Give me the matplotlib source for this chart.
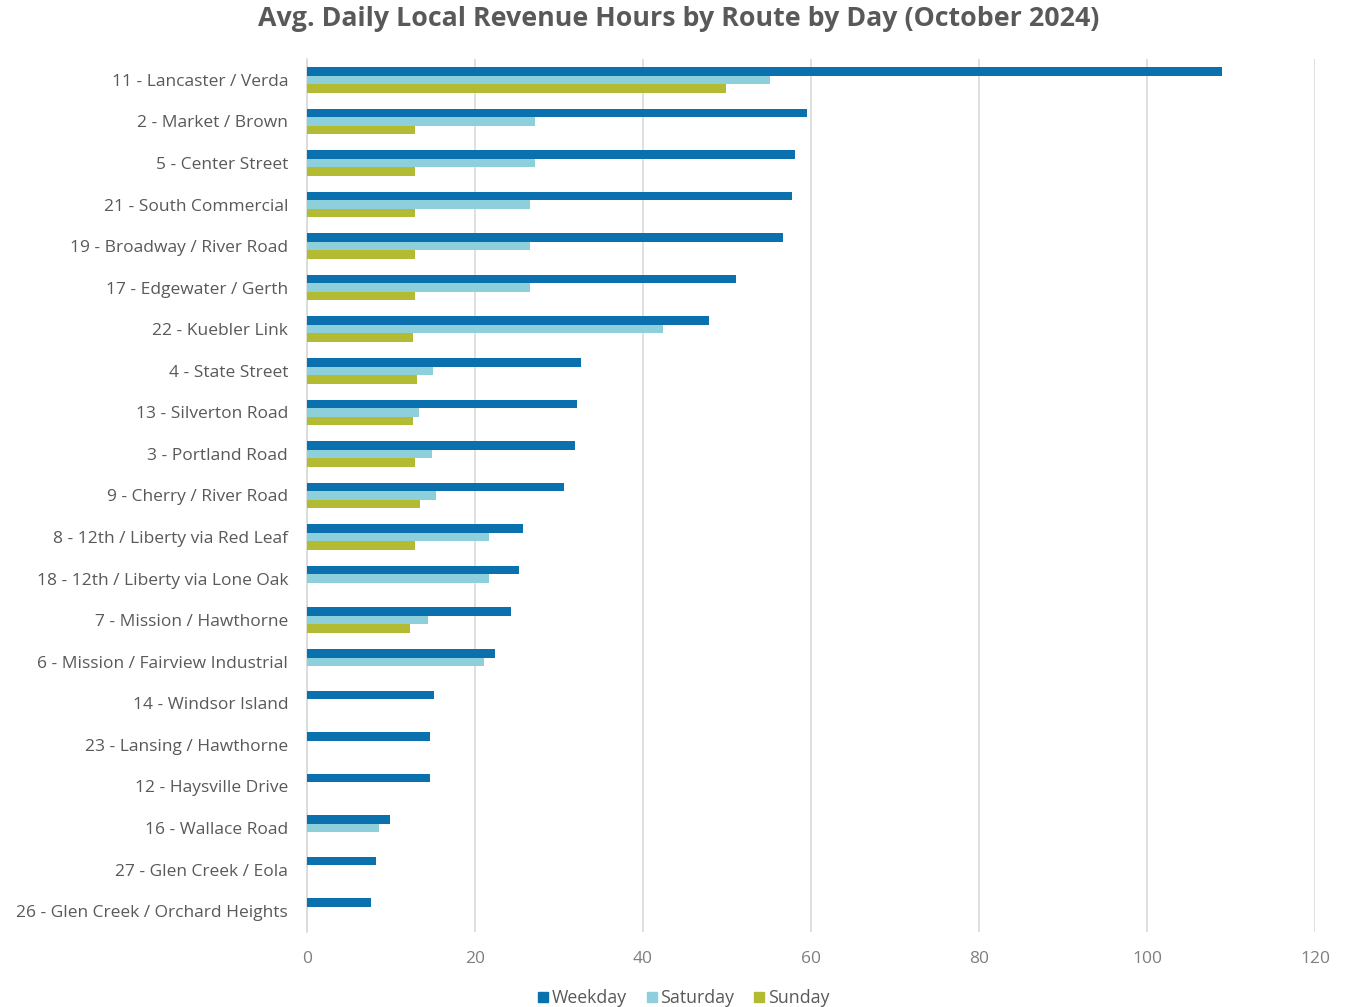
import numpy as np
import matplotlib
matplotlib.use("Agg")
import matplotlib.pyplot as plt
from matplotlib.lines import Line2D

plt.rcParams['font.family'] = ['Open Sans', 'DejaVu Sans']

routes = [
    "11 - Lancaster / Verda",
    "2 - Market / Brown",
    "5 - Center Street",
    "21 - South Commercial",
    "19 - Broadway / River Road",
    "17 - Edgewater / Gerth",
    "22 - Kuebler Link",
    "4 - State Street",
    "13 - Silverton Road",
    "3 - Portland Road",
    "9 - Cherry / River Road",
    "8 - 12th / Liberty via Red Leaf",
    "18 - 12th / Liberty via Lone Oak",
    "7 - Mission / Hawthorne",
    "6 - Mission / Fairview Industrial",
    "14 - Windsor Island",
    "23 - Lansing / Hawthorne",
    "12 - Haysville Drive",
    "16 - Wallace Road",
    "27 - Glen Creek / Eola",
    "26 - Glen Creek / Orchard Heights",
]

weekday = [108.9, 59.5, 58.1, 57.7, 56.7, 51.1, 47.9, 32.6, 32.1, 31.9, 30.6,
           25.7, 25.2, 24.3, 22.4, 15.1, 14.6, 14.6, 9.9, 8.2, 7.6]
saturday = [55.1, 27.1, 27.1, 26.5, 26.5, 26.5, 42.4, 15.0, 13.3, 14.9, 15.4,
            21.7, 21.7, 14.4, 21.1, 0, 0, 0, 8.6, 0, 0]
sunday = [49.9, 12.9, 12.9, 12.9, 12.9, 12.9, 12.6, 13.1, 12.6, 12.9, 13.5,
          12.9, 0, 12.3, 0, 0, 0, 0, 0, 0, 0]

series_names = ["Weekday", "Saturday", "Sunday"]
colors = ["#0A71AE", "#8DCFDB", "#B3BB32"]
x_ticks = [0, 20, 40, 60, 80, 100, 120]

fig = plt.figure(figsize=(13.5, 10.07), dpi=100)
ax = fig.add_axes([0.2274, 0.0745, 0.7467, 0.8669])

pos = np.arange(len(routes))
bar_h = 0.205
for i, (vals, col) in enumerate(zip([weekday, saturday, sunday], colors)):
    ax.barh(pos + (i - 1) * bar_h, vals, height=bar_h, color=col,
            label=series_names[i], zorder=3)

ax.set_ylim(len(routes) - 0.5, -0.5)
ax.set_xlim(0, 120)
ax.set_xticks(x_ticks)
ax.set_yticks(pos)
ax.set_yticklabels(routes)

ax.grid(axis='x', color='#D9D9D9', linewidth=1.2, zorder=0)
for s in ['top', 'right', 'bottom']:
    ax.spines[s].set_visible(False)
ax.spines['left'].set_color('#D9D9D9')
ax.spines['left'].set_linewidth(1.2)
ax.tick_params(axis='y', length=0, pad=13.5, labelsize=12.5, labelcolor='#595959')
ax.tick_params(axis='x', length=0, pad=14, labelsize=12.5, labelcolor='#7F7F7F')

fig.text(0.5026, 0.981, "Avg. Daily Local Revenue Hours by Route by Day (October 2024)",
         ha='center', va='center', fontsize=19.3, fontweight='bold', color='#595959')

handles = [Line2D([0], [0], marker='s', linestyle='none', markersize=7,
                  markerfacecolor=c, markeredgecolor=c) for c in colors]
fig.legend(handles, series_names, loc='center', bbox_to_anchor=(0.505, 0.009),
           ncol=3, frameon=False, fontsize=12.8, labelcolor='#595959',
           handletextpad=0.0, columnspacing=0.9, handlelength=1.0)

fig.savefig("out.png", dpi=100, facecolor='white')
